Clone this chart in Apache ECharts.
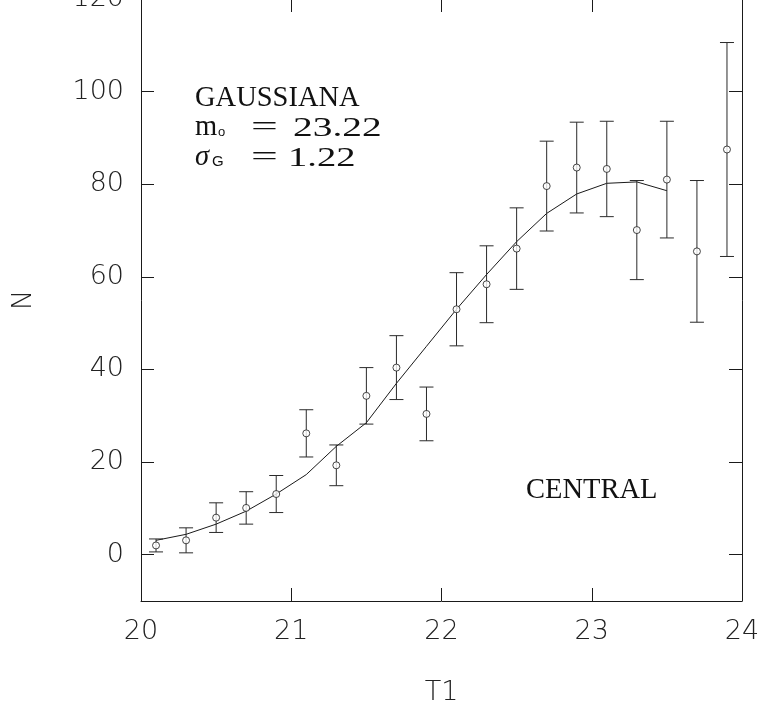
<!DOCTYPE html>
<html>
<head>
<meta charset="utf-8">
<script src="https://cdn.jsdelivr.net/npm/echarts@6/dist/echarts.min.js"></script>
<style>
  html, body { margin: 0; padding: 0; background: #fff; }
  #chart { width: 763px; height: 710px; }
</style>
</head>
<body>
<div id="chart"></div>
<script>
// Magnitude bins (T1) and counts N with symmetric errors
const T = [20.1, 20.3, 20.5, 20.7, 20.9, 21.1, 21.3, 21.5, 21.7, 21.9,
           22.1, 22.3, 22.5, 22.7, 22.9, 23.1, 23.3, 23.5, 23.7, 23.9];
const N = [2.0, 3.1, 8.0, 10.1, 13.1, 26.2, 19.3, 34.3, 40.4, 30.4,
           53.0, 58.4, 66.1, 79.6, 83.6, 83.3, 70.1, 81.0, 65.5, 87.5];
const ERR = [1.4, 2.7, 3.2, 3.5, 4.0, 5.1, 4.4, 6.1, 6.9, 5.8,
             7.9, 8.3, 8.8, 9.7, 9.8, 10.3, 10.7, 12.6, 15.3, 23.1];

// Gaussian fit evaluated at the bin centres
const FIT_T = [20.1, 20.3, 20.5, 20.7, 20.9, 21.1, 21.3, 21.5, 21.7,
               21.9, 22.1, 22.3, 22.5, 22.7, 22.9, 23.1, 23.3, 23.5];
const FIT_N = [3.1, 4.4, 6.6, 9.4, 13.1, 17.3, 23.4, 28.5, 37.0,
               45.0, 53.0, 60.5, 67.6, 73.7, 77.9, 80.2, 80.5, 78.6];

const X_RANGE = [20, 24];
const Y_RANGE = [-10, 120];

const INK = '#1a1a1a';
const AXIS_FONT = "'DejaVu Sans'";
const SERIF = "'Liberation Serif'";

const chart = echarts.init(document.getElementById('chart'), null, { renderer: 'canvas' });

const axisLabelStyle = {
  color: '#222',
  fontFamily: AXIS_FONT,
  fontWeight: 200,
  fontSize: 27
};

const frameLine = { show: true, onZero: false, lineStyle: { color: INK, width: 1 } };
const frameTick = { show: true, inside: true, length: 13, lineStyle: { color: INK } };

const barData = T.map((t, i) => [t, N[i] - ERR[i], N[i] + ERR[i]]);

const option = {
  animation: false,
  backgroundColor: '#fff',
  grid: { left: 141, right: 21, top: -1, bottom: 109, containLabel: false, outerBoundsMode: 'none' },
  xAxis: [
    {
      type: 'value', min: X_RANGE[0], max: X_RANGE[1], interval: 1,
      position: 'bottom',
      name: 'T1', nameLocation: 'middle', nameGap: 78,
      nameTextStyle: axisLabelStyle,
      axisLine: frameLine,
      axisTick: frameTick,
      axisLabel: Object.assign({ margin: 17 }, axisLabelStyle),
      splitLine: { show: false }
    },
    {
      type: 'value', min: X_RANGE[0], max: X_RANGE[1], interval: 1,
      position: 'top',
      axisLine: frameLine,
      axisTick: frameTick,
      axisLabel: { show: false },
      splitLine: { show: false }
    }
  ],
  yAxis: [
    {
      type: 'value', min: Y_RANGE[0], max: Y_RANGE[1], splitNumber: 6,
      position: 'left',
      name: 'N', nameLocation: 'middle', nameGap: 104,
      nameTextStyle: axisLabelStyle,
      axisLine: frameLine,
      axisTick: frameTick,
      axisLabel: Object.assign({
        margin: 17,
        formatter: v => (v < 0 ? '' : String(v))
      }, axisLabelStyle),
      splitLine: { show: false }
    },
    {
      type: 'value', min: Y_RANGE[0], max: Y_RANGE[1], splitNumber: 6,
      position: 'right',
      axisLine: frameLine,
      axisTick: frameTick,
      axisLabel: { show: false },
      splitLine: { show: false }
    }
  ],
  series: [
    {
      name: 'fit',
      type: 'line',
      data: FIT_T.map((t, i) => [t, FIT_N[i]]),
      showSymbol: false,
      symbol: 'none',
      smooth: false,
      lineStyle: { color: INK, width: 1 },
      z: 2
    },
    {
      name: 'errors',
      type: 'custom',
      data: barData,
      renderItem: function (params, api) {
        const x = api.value(0);
        const lo = api.coord([x, api.value(1)]);
        const hi = api.coord([x, api.value(2)]);
        const half = 7;
        const st = { stroke: '#2a2a2a', lineWidth: 1 };
        return {
          type: 'group',
          children: [
            { type: 'line', shape: { x1: lo[0], y1: lo[1], x2: hi[0], y2: hi[1] }, style: st },
            { type: 'line', shape: { x1: hi[0] - half, y1: hi[1], x2: hi[0] + half, y2: hi[1] }, style: st },
            { type: 'line', shape: { x1: lo[0] - half, y1: lo[1], x2: lo[0] + half, y2: lo[1] }, style: st }
          ]
        };
      },
      encode: { x: 0, y: [1, 2] },
      z: 3
    },
    {
      name: 'counts',
      type: 'scatter',
      data: T.map((t, i) => [t, N[i]]),
      symbol: 'circle',
      symbolSize: 7,
      itemStyle: { color: '#fff', borderColor: INK, borderWidth: 1 },
      z: 4
    }
  ],
  graphic: [
    { type: 'text', x: 195, y: 99, style: { text: 'GAUSSIANA', font: '28.5px ' + SERIF, fill: '#111', verticalAlign: 'middle' } },
    { type: 'text', x: 195, y: 128, style: { text: 'm', font: '28.5px ' + SERIF, fill: '#111', verticalAlign: 'middle' } },
    { type: 'text', x: 218, y: 139, style: { text: 'o', font: '13px \'Liberation Sans\'', fill: '#111', verticalAlign: 'bottom' } },
    { type: 'text', x: 251, y: 128, scaleX: 1.7, style: { text: '=', font: '28px ' + SERIF, fill: '#111', verticalAlign: 'middle' } },
    { type: 'text', x: 293, y: 129, scaleX: 1.46, style: { text: '23.22', font: '27px ' + SERIF, fill: '#111', verticalAlign: 'middle' } },
    { type: 'text', x: 195, y: 158, style: { text: 'σ', font: 'italic 28.5px ' + SERIF, fill: '#111', verticalAlign: 'middle' } },
    { type: 'text', x: 212, y: 169, style: { text: 'G', font: '15px \'Liberation Sans\'', fill: '#111', verticalAlign: 'bottom' } },
    { type: 'text', x: 251, y: 158, scaleX: 1.7, style: { text: '=', font: '28px ' + SERIF, fill: '#111', verticalAlign: 'middle' } },
    { type: 'text', x: 288, y: 159, scaleX: 1.43, style: { text: '1.22', font: '27px ' + SERIF, fill: '#111', verticalAlign: 'middle' } },
    { type: 'text', x: 526, y: 491, style: { text: 'CENTRAL', font: '28.5px ' + SERIF, fill: '#111', verticalAlign: 'middle' } }
  ]
};

chart.setOption(option);
</script>
</body>
</html>
